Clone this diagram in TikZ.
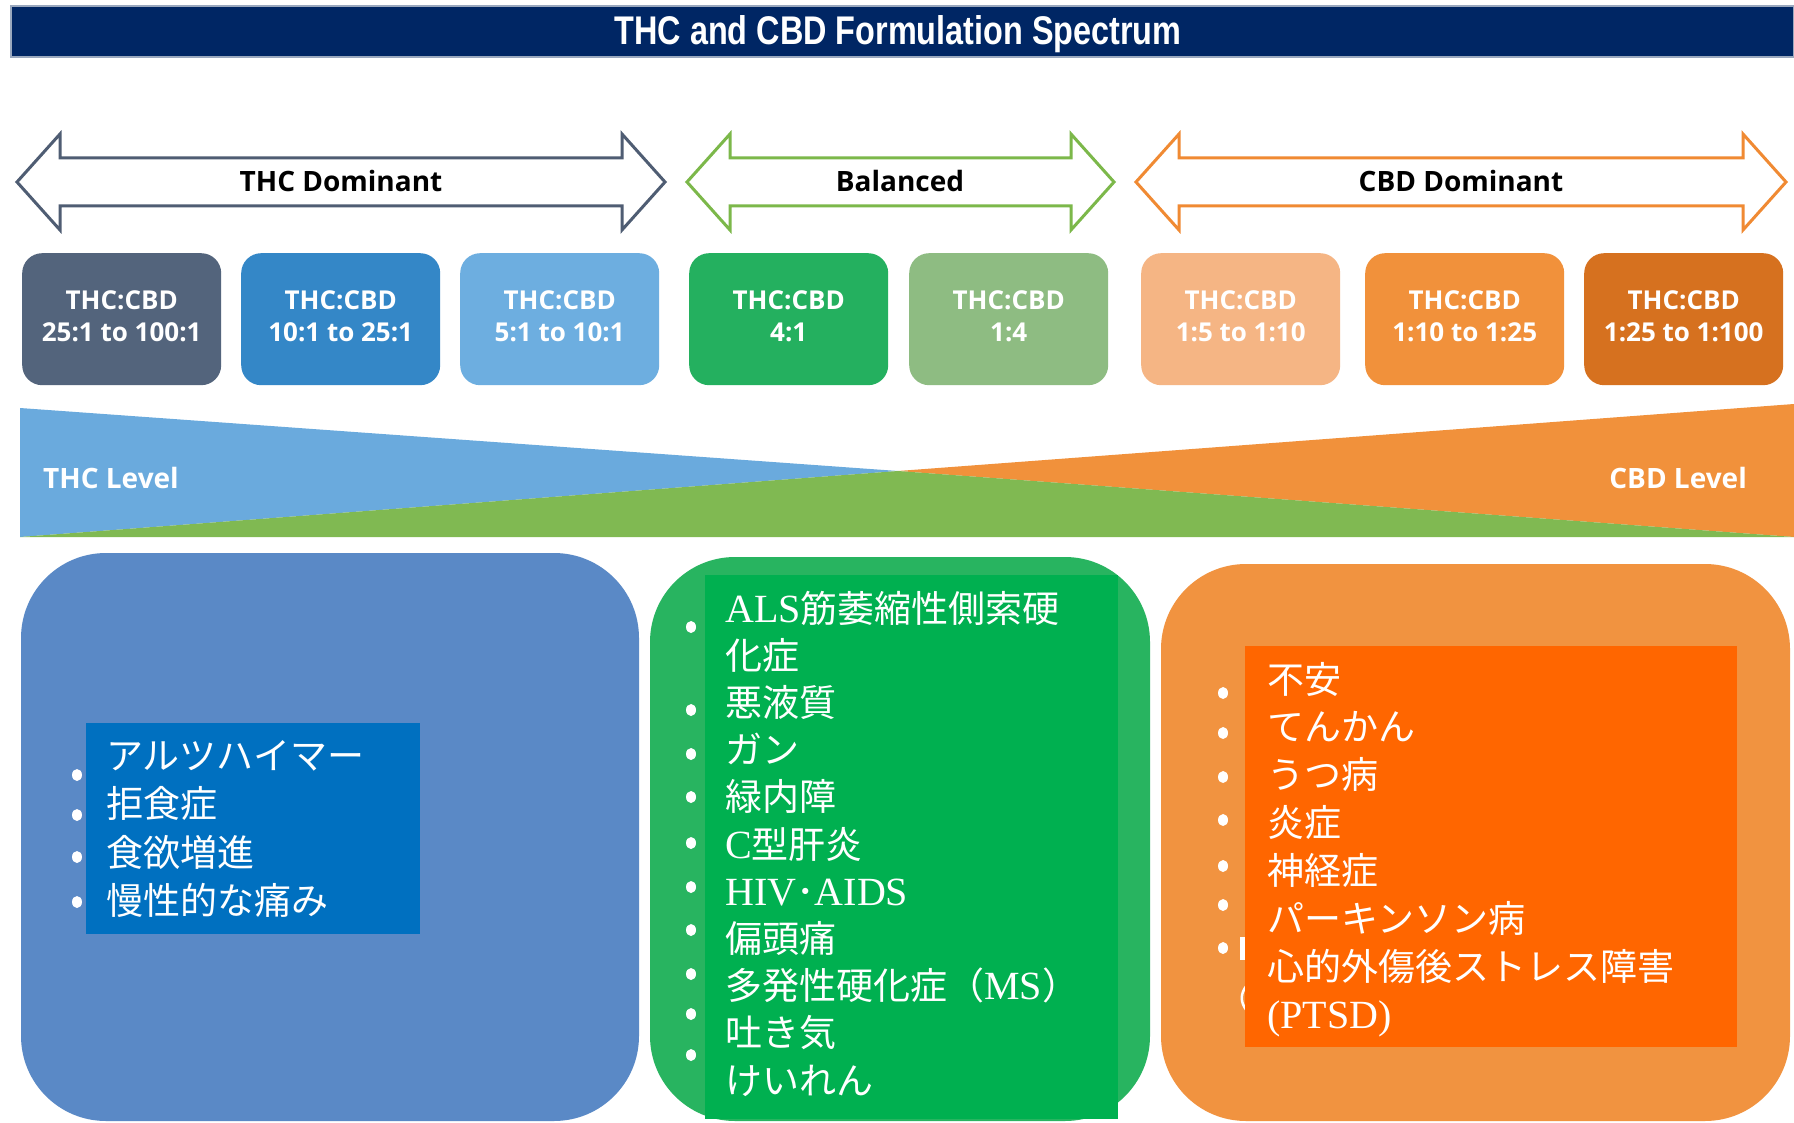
\documentclass[tikz,border=0pt]{standalone}
\usepackage{fontspec}
\setmainfont{Open Sans}
\newfontfamily\titlefont{Liberation Sans}
\newfontfamily\jpfont{Noto Sans CJK JP}
\newfontfamily\latinserif{Liberation Serif}
\newcommand\sr[1]{{\latinserif\fontsize{40}{46}\selectfont #1}}
\definecolor{navy}{HTML}{002664}
\definecolor{navyedge}{HTML}{9AA8BE}
\definecolor{thcarrow}{HTML}{4F5D73}
\definecolor{balarrow}{HTML}{7CB84A}
\definecolor{cbdarrow}{HTML}{F08A33}
\definecolor{rA}{HTML}{53647C}
\definecolor{rB}{HTML}{3487C7}
\definecolor{rC}{HTML}{6DAEE0}
\definecolor{rD}{HTML}{24B05F}
\definecolor{rE}{HTML}{8EBC82}
\definecolor{rF}{HTML}{F5B584}
\definecolor{rG}{HTML}{F1913B}
\definecolor{rH}{HTML}{D6711F}
\definecolor{bandblue}{HTML}{6AAADD}
\definecolor{bandgreen}{HTML}{80B952}
\definecolor{bandorange}{HTML}{F1913B}
\definecolor{panelblue}{HTML}{5A89C6}
\definecolor{innerblue}{HTML}{0070C0}
\definecolor{panelgreen}{HTML}{28B460}
\definecolor{innergreen}{HTML}{00B050}
\definecolor{panelorange}{HTML}{F19340}
\definecolor{innerorange}{HTML}{FF6600}
\newcommand\lowpad{\rule[-7pt]{0pt}{0pt}}
\tikzset{
  ratiobox/.style={rounded corners=20pt, minimum width=199pt, minimum height=132pt, inner sep=0pt, text=white, font=\bfseries\fontsize{26}{32}\selectfont, align=center, anchor=north west},
  arrlabel/.style={font=\bfseries\fontsize{28}{32}\selectfont, anchor=base, inner sep=0pt},
  listitem/.style={font=\jpfont\fontsize{37}{44}\selectfont, text=white, anchor=base west, inner sep=0pt},
  levellabel/.style={font=\bfseries\fontsize{28}{32}\selectfont, text=white, inner sep=0pt},
  dot/.style={white},
}
\newcommand\dblarrow[3]{%
  \draw[#3, line width=3pt, fill=white, line join=miter]
   (#1,182) -- ({#1+43},134) -- ({#1+43},158) -- ({#2-43},158) -- ({#2-43},134) -- (#2,182)
   -- ({#2-43},230) -- ({#2-43},206) -- ({#1+43},206) -- ({#1+43},230) -- cycle;}
\begin{document}
\begin{tikzpicture}[x=1pt,y=-1pt]
\useasboundingbox (0,0) rectangle (1794,1123);
\clip (0,0) rectangle (1794,1123);
\fill[white] (0,0) rectangle (1794,1123);

% title bar
\node[fill=navy, draw=navyedge, line width=1.5pt, minimum width=1783pt, minimum height=51pt, inner sep=0pt] (titlebar) at (902.5,31.5) {};
\node[anchor=base, text=white, inner sep=0pt, font=\titlefont\bfseries\fontsize{40}{44}\selectfont] (title) at (898,45) {\scalebox{0.81}[1]{THC and CBD Formulation Spectrum}};

% spectrum arrows
\dblarrow{17}{665}{thcarrow}
\dblarrow{687}{1114}{balarrow}
\dblarrow{1136}{1786}{cbdarrow}
\node[arrlabel] (lthc) at (341,192) {THC Dominant};
\node[arrlabel] (lbal) at (900,192) {Balanced};
\node[arrlabel] (lcbd) at (1461,192) {CBD Dominant};

% ratio boxes
\node[ratiobox, fill=rA] (r1) at (22,253) {THC:CBD\\25:1 to 100:1\lowpad};
\node[ratiobox, fill=rB] (r2) at (241,253) {THC:CBD\\10:1 to 25:1\lowpad};
\node[ratiobox, fill=rC] (r3) at (460,253) {THC:CBD\\5:1 to 10:1\lowpad};
\node[ratiobox, fill=rD] (r4) at (689,253) {THC:CBD\\4:1\lowpad};
\node[ratiobox, fill=rE] (r5) at (909,253) {THC:CBD\\1:4\lowpad};
\node[ratiobox, fill=rF] (r6) at (1141,253) {THC:CBD\\1:5 to 1:10\lowpad};
\node[ratiobox, fill=rG] (r7) at (1365,253) {THC:CBD\\1:10 to 1:25\lowpad};
\node[ratiobox, fill=rH] (r8) at (1584,253) {THC:CBD\\1:25 to 1:100\lowpad};

% level band
\fill[bandblue] (20,408) -- (20,537) -- (898,471) -- cycle;
\fill[bandorange] (1794,404) -- (1794,537) -- (898,471) -- cycle;
\fill[bandgreen] (20,537) -- (898,471) -- (1794,537) -- cycle;
\node[levellabel, anchor=base west] (thclevel) at (43,488) {THC Level};
\node[levellabel, anchor=base east] (cbdlevel) at (1747,488) {CBD Level};

% panels
\fill[panelblue, rounded corners=85pt] (21,553) rectangle (639,1121);
\fill[panelgreen, rounded corners=85pt] (650,557) rectangle (1150,1121);
\fill[panelorange, rounded corners=85pt] (1161,564) rectangle (1790,1121);

% blue list
\foreach \y in {775,815,857,902} \fill[dot] (77,\y) ellipse (5pt and 6pt);
\fill[innerblue] (86,723) rectangle (420,934);
\node[listitem] (b1) at (106,769) {アルツハイマー};
\node[listitem] (b2) at (106,817.5) {拒食症};
\node[listitem] (b3) at (106,866) {食欲増進};
\node[listitem] (b4) at (106,914.5) {慢性的な痛み};

% green list
\foreach \y in {627,710,754,797,843,887,930,974,1014,1055} \fill[dot] (691,\y) ellipse (5pt and 6pt);
\fill[innergreen] (705,575) rectangle (1118,1119);
\node[listitem] (g1) at (725,622) {\sr{ALS}筋萎縮性側索硬};
\node[listitem] (g2) at (725,669.2) {化症};
\node[listitem] (g3) at (725,716.4) {悪液質};
\node[listitem] (g4) at (725,763.6) {ガン};
\node[listitem] (g5) at (725,810.8) {緑内障};
\node[listitem] (g6) at (725,858) {\sr{C}型肝炎};
\node[listitem] (g7) at (725,905.2) {\sr{HIV}･\sr{AIDS}};
\node[listitem] (g8) at (725,952.4) {偏頭痛};
\node[listitem] (g9) at (725,999.6) {多発性硬化症（\sr{MS}）};
\node[listitem] (g10) at (725,1046.8) {吐き気};
\node[listitem] (g11) at (725,1094) {けいれん};

% orange list
\foreach \y in {693,733,777,820,866,905,948} \fill[dot] (1223,\y) ellipse (5pt and 6pt);
\fill[white] (1240,937) rectangle (1247,960);
\draw[white, line width=2.5pt] (1247,985) .. controls (1240,994) and (1240,1002) .. (1247,1011);
\fill[innerorange] (1245,646) rectangle (1737,1047);
\node[listitem] (o1) at (1267,693) {不安};
\node[listitem] (o2) at (1267,740.9) {てんかん};
\node[listitem] (o3) at (1267,788.8) {うつ病};
\node[listitem] (o4) at (1267,836.7) {炎症};
\node[listitem] (o5) at (1267,884.6) {神経症};
\node[listitem] (o6) at (1267,932.5) {パーキンソン病};
\node[listitem] (o7) at (1267,980.4) {心的外傷後ストレス障害};
\node[listitem] (o8) at (1267,1028.3) {\sr{(PTSD)}};
\end{tikzpicture}
\end{document}
